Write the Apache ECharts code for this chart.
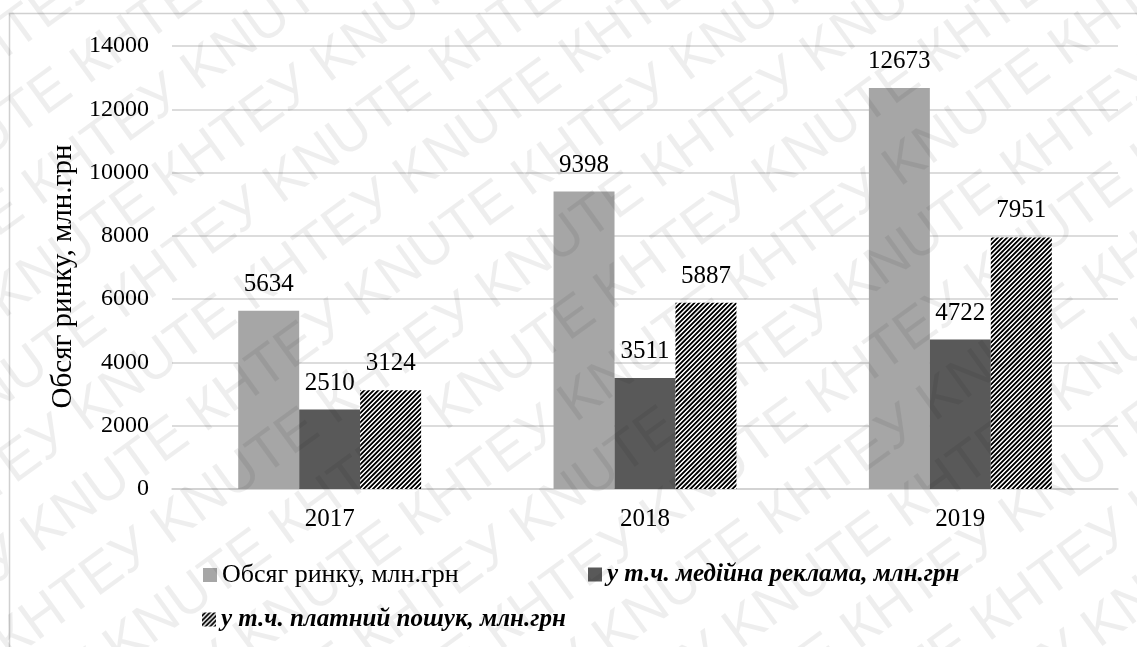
<!DOCTYPE html>
<html>
<head>
<meta charset="utf-8">
<script src="https://cdn.jsdelivr.net/npm/echarts@6/dist/echarts.min.js"></script>
<style>
  html, body { margin: 0; padding: 0; background: #fff; }
  #chart { width: 1137px; height: 647px; }
</style>
</head>
<body>
<div id="chart"></div>
<script>
// Market volume of internet advertising, by year
const years = ['2017', '2018', '2019'];
const marketVolume = [5634, 9398, 12673];
const mediaAds = [2510, 3511, 4722];
const paidSearch = [3124, 5887, 7951];
const seriesNames = [
  'Обсяг ринку, млн.грн',
  'у т.ч. медійна реклама, млн.грн',
  'у т.ч. платний пошук, млн.грн'
];
const yAxisTitle = 'Обсяг ринку, млн.грн';
const watermarkWords = ['КНТЕУ', 'KNUTE'];

const SERIF = "'Liberation Serif', 'Times New Roman', serif";

// diagonal "/" hatch tile for the paid-search bars
function makeHatch() {
  const n = 14, c = document.createElement('canvas');
  c.width = c.height = n;
  const ctx = c.getContext('2d');
  const img = ctx.createImageData(n, n);
  for (let y = 0; y < n; y++) {
    for (let x = 0; x < n; x++) {
      let v = 0.5 + 0.5 * Math.cos(2 * Math.PI * 3 * (x + y) / n);
      v = Math.min(1, Math.max(0, (v - 0.58) * 1.5 + 0.5));
      const g = Math.round(255 * v);
      const i = (y * n + x) * 4;
      img.data[i] = img.data[i + 1] = img.data[i + 2] = g;
      img.data[i + 3] = 255;
    }
  }
  ctx.putImageData(img, 0, 0);
  return c;
}
const hatch = { image: makeHatch(), repeat: 'repeat' };

// tiled diagonal watermark text
function watermark() {
  const els = [];
  const ang = 36 * Math.PI / 180;
  const dx = Math.cos(ang), dy = -Math.sin(ang);   // along text
  const px = Math.sin(ang), py = Math.cos(ang);    // perpendicular (down-right)
  let line = '';
  for (let i = 0; i < 12; i++) line += watermarkWords[i % 2] + ' ';
  for (let k = -12; k <= 12; k++) {
    const shift = (k % 2 ? 110 : 0) - 760;
    els.push({
      type: 'text', silent: true, z: 100, rotation: ang,
      x: 568 + px * k * 70 + dx * shift,
      y: 323 + py * k * 70 + dy * shift,
      style: {
        text: line, fill: 'rgba(0,0,0,0.065)',
        font: "56px 'Liberation Sans', Arial, sans-serif",
        textVerticalAlign: 'middle'
      }
    });
  }
  return els;
}

const chart = echarts.init(document.getElementById('chart'), null, { renderer: 'canvas' });

const labelStyle = {
  show: true, position: 'top', distance: 14,
  fontFamily: SERIF, fontSize: 25, color: '#000'
};
const legendBase = {
  orient: 'horizontal', icon: 'rect', itemWidth: 14, itemHeight: 14,
  itemGap: 10, selectedMode: false, padding: 0
};

chart.setOption({
  animation: false,
  backgroundColor: '#fff',
  color: ['#a6a6a6', '#595959', hatch],
  grid: { left: 172, right: 19, top: 46, bottom: 158, containLabel: false },
  legend: [
    Object.assign({}, legendBase, {
      left: 203, top: 562, data: [seriesNames[0]],
      textStyle: { fontFamily: SERIF, fontSize: 26, color: '#000' }
    }),
    Object.assign({}, legendBase, {
      left: 588, top: 562, data: [seriesNames[1]],
      textStyle: { fontFamily: SERIF, fontSize: 25, color: '#000', fontWeight: 'bold', fontStyle: 'italic' }
    }),
    Object.assign({}, legendBase, {
      left: 202, top: 607, data: [seriesNames[2]],
      textStyle: { fontFamily: SERIF, fontSize: 25, color: '#000', fontWeight: 'bold', fontStyle: 'italic' }
    })
  ],
  xAxis: {
    type: 'category', data: years,
    axisLine: { lineStyle: { color: '#d0d0d0', width: 1.5 } },
    axisTick: { show: false },
    axisLabel: { fontFamily: SERIF, fontSize: 25, color: '#000', margin: 18 }
  },
  yAxis: {
    type: 'value', min: 0, max: 14000, interval: 2000,
    name: yAxisTitle, nameLocation: 'middle', nameGap: 92, nameRotate: 90,
    nameTextStyle: { fontFamily: SERIF, fontSize: 29, color: '#000', padding: [0, 18, 0, 0] },
    axisLine: { show: false }, axisTick: { show: false },
    axisLabel: {
      fontFamily: SERIF, fontSize: 24, color: '#000', margin: 23,
      formatter: v => String(v)
    },
    splitLine: { lineStyle: { color: '#d0d0d0', width: 1.5 } }
  },
  series: [
    { name: seriesNames[0], type: 'bar', data: marketVolume, barGap: '0%', barCategoryGap: '42%', label: labelStyle },
    { name: seriesNames[1], type: 'bar', data: mediaAds, barGap: '0%', barCategoryGap: '42%', label: labelStyle },
    { name: seriesNames[2], type: 'bar', data: paidSearch, barGap: '0%', barCategoryGap: '42%', label: labelStyle }
  ],
  graphic: [
    { type: 'rect', silent: true, z: 0, shape: { x: 9.5, y: 13.5, width: 1300, height: 800 },
      style: { fill: 'none', stroke: '#d0d0d0', lineWidth: 1.5 } }
  ].concat(watermark())
});
</script>
</body>
</html>
